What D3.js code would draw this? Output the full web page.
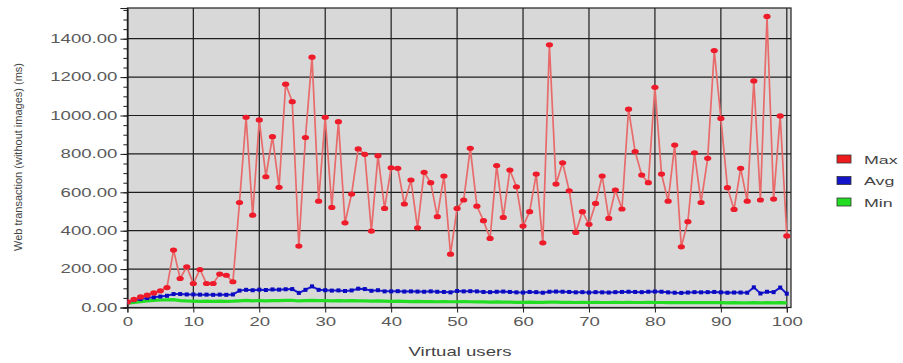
<!DOCTYPE html>
<html>
<head>
<meta charset="utf-8">
<script src="https://cdn.jsdelivr.net/npm/d3@7"></script>
<style>
  html, body { margin: 0; padding: 0; background: #ffffff; }
  svg { display: block; }
  text { font-family: "Liberation Sans", Arial, sans-serif; }
</style>
</head>
<body>
<svg id="chart" width="903" height="363"></svg>
<script>
// ---- data ----
const users = d3.range(0, 101);
const maxValues = [29,42,55,64,76,87,104,299,151,212,125,198,125,125,174,168,134,547,991,481,
  977,681,890,626,1163,1072,320,885,1304,554,991,521,968,441,591,826,798,398,791,516,
  728,725,539,664,415,704,650,473,685,278,516,560,829,528,452,360,739,469,716,629,
  424,499,695,337,1368,643,754,608,391,499,433,542,685,464,612,513,1033,812,690,650,
  1147,695,554,846,316,447,806,547,777,1338,985,624,511,725,554,1180,560,1516,565,998,373];
const avgValues = [27,38,44,49,53,57,61,70,70,68,68,67,67,66,67,66,68,88,92,90,
  93,91,94,93,95,96,76,92,110,92,90,88,89,86,89,98,96,87,90,84,
  84,85,83,84,83,82,84,82,81,79,86,84,85,84,81,80,82,83,81,79,
  78,81,80,77,82,83,82,81,79,80,78,80,79,78,80,81,82,81,80,82,
  83,82,79,77,76,78,80,79,80,81,79,77,78,78,77,105,73,82,80,104,72];
const minValues = [22,27,31,34,37,39,40,41,36,34,33,32,33,32,33,32,33,35,37,35,
  36,35,36,36,37,37,34,36,37,36,36,35,36,35,36,35,34,33,34,33,
  32,33,32,31,32,31,31,30,31,30,30,31,30,29,29,28,29,28,28,27,
  27,28,27,27,28,28,27,27,26,27,26,27,26,26,27,26,27,26,26,27,
  26,26,25,25,25,25,26,25,25,25,25,24,25,24,24,25,24,25,24,25,24];
const yTicks = [0, 200, 400, 600, 800, 1000, 1200, 1400];
const xTicks = [0, 10, 20, 30, 40, 50, 60, 70, 80, 90, 100];
const seriesNames = ["Max", "Avg", "Min"];
const seriesColors = ["#ee1c1c", "#1414c8", "#22dd22"];

// ---- layout ----
const svg = d3.select("#chart");
const plot = { left: 127.4, right: 791, top: 8, bottom: 307.5 };
const x = d3.scaleLinear().domain([0, 100]).range([plot.left, 786.8]);
const y = d3.scaleLinear().domain([0, 1560]).range([plot.bottom, plot.top]);
const SX = 1.55; // horizontal stretch of the reference text

// background
svg.append("rect")
  .attr("x", plot.left).attr("y", plot.top)
  .attr("width", plot.right - plot.left).attr("height", plot.bottom - plot.top)
  .attr("fill", "#d8d8d8");

// grid
const grid = svg.append("g").attr("stroke", "#1e1e1e").attr("stroke-width", 1.2);
grid.selectAll("line.h").data(yTicks.slice(1)).join("line")
  .attr("x1", plot.left).attr("x2", plot.right)
  .attr("y1", d => y(d)).attr("y2", d => y(d));
grid.selectAll("line.v").data(xTicks.slice(1)).join("line")
  .attr("y1", plot.top).attr("y2", plot.bottom)
  .attr("x1", d => x(d)).attr("x2", d => x(d));
// border
svg.append("rect")
  .attr("x", plot.left).attr("y", plot.top)
  .attr("width", plot.right - plot.left).attr("height", plot.bottom - plot.top)
  .attr("fill", "none").attr("stroke", "#1e1e1e").attr("stroke-width", 1.2);

// axes
const yAxis = d3.axisLeft(y).tickValues(yTicks).tickFormat(d3.format(".2f")).tickSize(7);
const yMinor = d3.axisLeft(y).tickValues(d3.range(0, 1560, 50)).tickFormat("").tickSize(4);
const xAxis = d3.axisBottom(x).tickValues(xTicks).tickFormat(d3.format("d")).tickSize(5);

function styleAxis(g) {
  g.select(".domain").attr("stroke", "#1e1e1e");
  g.selectAll(".tick line").attr("stroke", "#1e1e1e");
  g.selectAll("text").attr("fill", "#5a5a5a").attr("font-size", 12)
    .attr("font-family", "'Liberation Sans', Arial, sans-serif");
}
svg.append("g").attr("transform", `translate(${plot.left},0)`).call(yMinor).call(styleAxis);
svg.append("g").attr("transform", `translate(${plot.left},0)`).call(yAxis).call(styleAxis)
  .selectAll(".tick text").attr("x", 0).attr("transform", `translate(-10,0) scale(${SX},1)`);
svg.append("g").attr("transform", `translate(0,${plot.bottom})`).call(xAxis).call(styleAxis)
  .selectAll(".tick text").attr("y", 0).attr("transform", `translate(0,10) scale(${SX},1)`);

// axis titles
svg.append("text").attr("transform", `translate(460,356) scale(${SX},1)`).attr("text-anchor", "middle")
  .attr("font-size", 12).attr("fill", "#444").text("Virtual users");
svg.append("text").attr("transform", "translate(22,157) rotate(-90)").attr("text-anchor", "middle")
  .attr("font-size", 11).attr("fill", "#444").text("Web transaction (without images) (ms)");

// clip
svg.append("clipPath").attr("id", "clip").append("rect")
  .attr("x", plot.left).attr("y", plot.top)
  .attr("width", plot.right - plot.left).attr("height", plot.bottom - plot.top);
const layer = svg.append("g").attr("clip-path", "url(#clip)");

const line = d3.line().x((d, i) => x(users[i])).y(d => y(d));

// Min
layer.append("path").datum(minValues).attr("d", line)
  .attr("fill", "none").attr("stroke", "#22dd22").attr("stroke-width", 3.2);
// Avg
layer.append("path").datum(avgValues).attr("d", line)
  .attr("fill", "none").attr("stroke", "#1a1ad0").attr("stroke-width", 2);
layer.selectAll("rect.avg").data(avgValues).join("rect")
  .attr("x", (d, i) => x(users[i]) - 2).attr("y", d => y(d) - 2)
  .attr("width", 4).attr("height", 4).attr("fill", "#0a0ac0");
// Max
layer.append("path").datum(maxValues).attr("d", line)
  .attr("fill", "none").attr("stroke", "#e86a6a").attr("stroke-width", 1.7);
layer.selectAll("ellipse.max").data(maxValues).join("ellipse")
  .attr("cx", (d, i) => x(users[i])).attr("cy", d => y(d))
  .attr("rx", 3.6).attr("ry", 2.6).attr("fill", "#ee1c2a");

// legend
const legend = svg.append("g");
seriesNames.forEach((name, i) => {
  const ly = 155 + i * 21.5;
  legend.append("rect").attr("x", 837).attr("y", ly).attr("width", 14).attr("height", 8)
    .attr("fill", seriesColors[i]).attr("stroke", "#333").attr("stroke-width", 0.8);
  legend.append("text").attr("transform", `translate(864,${ly + 8.5}) scale(${SX},1)`)
    .attr("font-size", 11.5).attr("fill", "#444").text(name);
});
</script>
</body>
</html>
